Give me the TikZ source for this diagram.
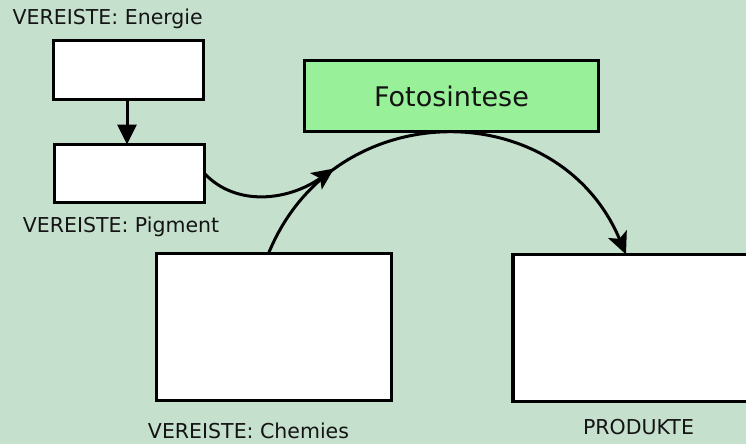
\documentclass[tikz,border=0pt]{standalone}
\usepackage{fontspec}
\setmainfont{DejaVu Sans}
\usetikzlibrary{arrows.meta}
\definecolor{bgc}{RGB}{198,224,206}
\definecolor{titlefill}{RGB}{152,240,152}
\definecolor{txt}{RGB}{20,20,20}
\tikzset{
  box/.style={draw=black, fill=white, line width=3.2pt, inner sep=0pt, outer sep=0pt},
  lbl/.style={text=txt, inner sep=0pt, font=\fontsize{20.5}{23}\selectfont},
  conn/.style={draw=black, line width=3pt},
  tri/.style={-{Triangle[length=20pt,width=19pt]}},
  stl/.style={-{Stealth[length=22pt,width=20pt,inset=5pt]}}
}
\begin{document}
\begin{tikzpicture}[x=1pt,y=-1pt]
\fill[bgc] (0,0) rectangle (746,444);
\useasboundingbox (0,0) rectangle (746,444);
\clip (0,0) rectangle (746,444);
% boxes
\node[box, minimum width=150pt, minimum height=59pt] (b1) at (128.5,70) {};
\node[box, minimum width=150pt, minimum height=58pt] (b2) at (129.5,173.5) {};
\node[box, fill=titlefill, minimum width=294pt, minimum height=71pt, text=txt, font=\fontsize{27}{30}\selectfont] (foto) at (451.5,96) {Fotosintese};
\node[box, minimum width=235pt, minimum height=147pt] (chem) at (274,327) {};
\node[box, minimum width=252pt, minimum height=147pt] (prod) at (639,328) {};
% labels
\node[lbl] (l1) at (107.7,18.5) {VEREISTE: Energie};
\node[lbl] (l2) at (121,227) {VEREISTE: Pigment};
\node[lbl] (l3) at (248.5,431) {VEREISTE: Chemies};
\node[lbl] (l4) at (638.5,427.5) {PRODUKTE};
% connectors
\draw[conn, tri] (b1.south -| 127,0) -- (b2.north -| 127,0);
\coordinate (m) at (334,168.5);
\draw[conn, stl] ([xshift=112pt]chem.north west) .. controls (333.6,93.5) and (558.4,93.5) .. ([xshift=113pt]prod.north west);
\draw[conn, stl] (b2.east) .. controls (236,207) and (288.3,200.9) .. (m);
\end{tikzpicture}
\end{document}
